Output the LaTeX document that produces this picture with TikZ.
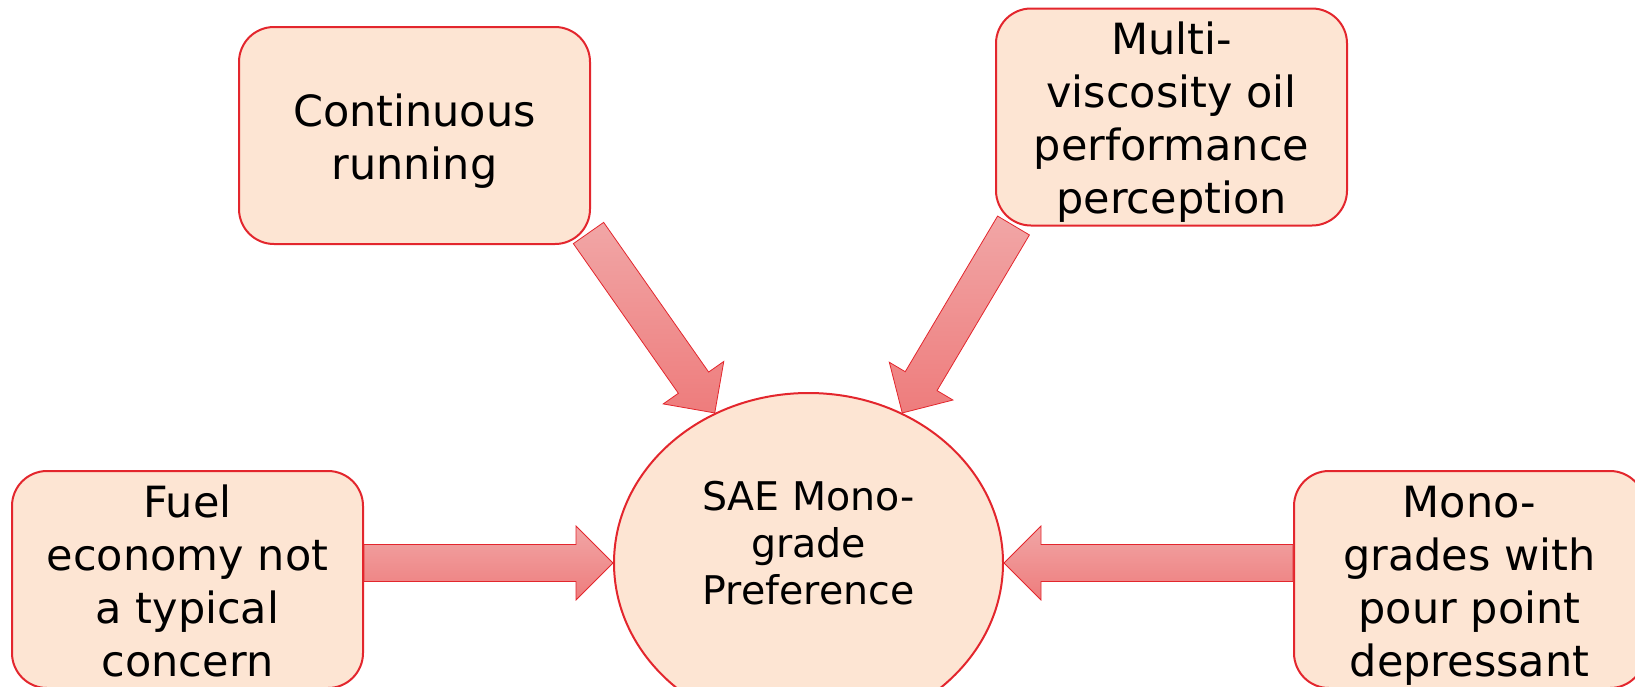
\documentclass[tikz,border=0pt]{standalone}
\usepackage{fontspec}
\setmainfont{DejaVu Sans}
\usetikzlibrary{shapes.geometric,calc}
\definecolor{boxfill}{HTML}{FDE5D3}
\definecolor{boxline}{HTML}{E3262D}
\definecolor{arrtop}{HTML}{F1A6A6}
\definecolor{arrbot}{HTML}{EE7C7C}
\tikzset{
  box/.style={draw=boxline, fill=boxfill, line width=2pt, rounded corners=35pt,
    minimum width=351pt, minimum height=217pt, align=center, inner sep=0pt,
    font=\fontsize{43}{53}\selectfont},
  ellbox/.style={ellipse, draw=boxline, fill=boxfill, line width=2pt,
    minimum width=389pt, minimum height=340pt, inner sep=0pt},
  elltext/.style={align=center, inner sep=0pt, font=\fontsize{39.5}{47}\selectfont},
  blockarr/.style={draw=boxline, line width=0.8pt, top color=arrtop, bottom color=arrbot, line join=miter}
}
\newcommand{\lowered}[2]{\raisebox{-#1}[\height][\depth]{\begin{tabular}{@{}c@{}}#2\end{tabular}}}
\newcommand{\blockarrow}[2]{%
  \path (#1) coordinate (ta) (#2) coordinate (tb);
  \path ($(tb)!37pt!(ta)$) coordinate (th);
  \draw[blockarr] ($(ta)!18.5pt!90:(tb)$) -- ($(th)!18.5pt!-90:(ta)$) -- ($(th)!37pt!-90:(ta)$)
    -- (tb) -- ($(th)!37pt!90:(ta)$) -- ($(th)!18.5pt!90:(ta)$) -- ($(ta)!18.5pt!-90:(tb)$) -- cycle;
}
\begin{document}
\begin{tikzpicture}[x=1pt, y=-1pt]
\useasboundingbox (0,0) rectangle (1635,686);
\node[box] (b1) at (414.5,135.5) {\lowered{7pt}{Continuous\\running}};
\node[box] (b2) at (1171.5,117) {\lowered{6pt}{Multi-\\viscosity oil\\performance\\perception}};
\node[box] (b3) at (187.5,579.5) {\lowered{7pt}{Fuel\\economy not\\a typical\\concern}};
\node[box] (b4) at (1469.5,579.5) {\lowered{7pt}{Mono-\\grades with\\pour point\\depressant}};
\node[ellbox] (ell) at (808.5,563) {};
\node[elltext] (ellt) at (808.5,543) {SAE Mono-\\grade\\Preference};
\blockarrow{$(b1.south east)+(-2.5,-12)$}{ell.122}
\blockarrow{$(b2.south west)+(18.5,-1)$}{ell.58}
\blockarrow{b3.east |- ell.west}{ell.west}
\blockarrow{b4.west |- ell.east}{ell.east}
\end{tikzpicture}
\end{document}
